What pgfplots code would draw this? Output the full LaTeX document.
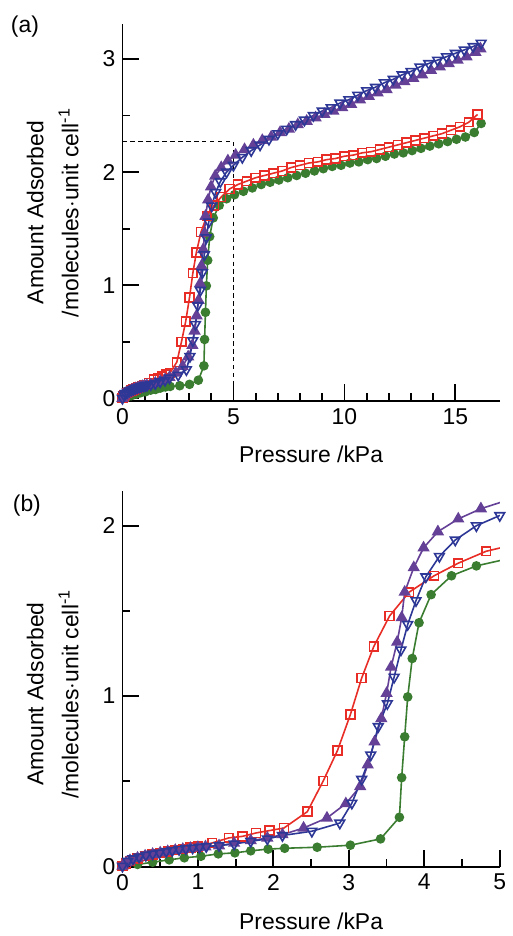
\documentclass[border=0pt]{standalone}
\usepackage{fontspec}
\setmainfont{Liberation Sans}
\usepackage{pgfplots}
\pgfplotsset{compat=1.18}
\usepackage{pgfplotstable}
\definecolor{cred}{RGB}{232,45,38}
\definecolor{cgreen}{RGB}{58,125,48}
\definecolor{cpurple}{RGB}{100,65,150}
\definecolor{cblue}{RGB}{45,55,150}

% open squares
\pgfplotstableread{
x y
0 0
0.05 0.015
0.1 0.03
0.2 0.045
0.3 0.058
0.4 0.068
0.5 0.078
0.6 0.087
0.7 0.095
0.8 0.102
0.9 0.109
1.0 0.116
1.19 0.136
1.41 0.166
1.59 0.175
1.77 0.195
1.95 0.209
2.14 0.224
2.45 0.32
2.66 0.50
2.85 0.68
3.02 0.89
3.17 1.105
3.33 1.29
3.54 1.47
3.80 1.61
4.13 1.706
4.45 1.78
4.82 1.85
5.2 1.89
5.6 1.92
6.0 1.95
6.4 1.97
6.8 1.99
7.2 2.01
7.6 2.04
8.0 2.06
8.4 2.08
8.8 2.09
9.2 2.11
9.6 2.12
10.0 2.14
10.4 2.15
10.8 2.17
11.2 2.18
11.6 2.20
12.0 2.22
12.4 2.24
12.8 2.26
13.2 2.28
13.6 2.30
14.0 2.32
14.4 2.34
14.8 2.37
15.2 2.40
15.6 2.44
16.0 2.51
}\sqdata

% filled circles
\pgfplotstableread{
x y
0 0
0.2 0.01
0.4 0.023
0.62 0.037
0.82 0.049
1.04 0.058
1.27 0.072
1.49 0.078
1.70 0.09
1.93 0.10
2.15 0.105
2.58 0.111
3.02 0.123
3.42 0.16
3.67 0.287
3.70 0.52
3.74 0.76
3.78 0.994
3.84 1.22
3.93 1.43
4.09 1.595
4.36 1.706
4.69 1.764
5.05 1.80
5.45 1.83
5.85 1.86
6.25 1.89
6.65 1.91
7.05 1.93
7.45 1.95
7.85 1.97
8.25 1.99
8.65 2.01
9.05 2.03
9.45 2.05
9.85 2.06
10.25 2.08
10.65 2.09
11.05 2.11
11.45 2.12
11.85 2.14
12.25 2.16
12.65 2.17
13.05 2.19
13.45 2.21
13.85 2.23
14.25 2.25
14.65 2.27
15.05 2.29
15.45 2.31
15.85 2.35
16.16 2.43
}\circdata

% filled up-triangles
\pgfplotstableread{
x y
0 0
0.05 0.02
0.1 0.033
0.2 0.048
0.3 0.06
0.4 0.07
0.5 0.078
0.6 0.086
0.7 0.093
0.8 0.099
0.9 0.105
1.0 0.11
1.1 0.114
1.28 0.12
1.48 0.135
1.70 0.15
1.92 0.165
2.12 0.185
2.40 0.224
2.71 0.283
2.96 0.367
3.15 0.468
3.25 0.595
3.34 0.73
3.43 0.867
3.50 1.015
3.56 1.17
3.64 1.316
3.70 1.46
3.74 1.61
3.86 1.754
3.99 1.87
4.18 1.965
4.45 2.04
4.75 2.10
5.1 2.15
5.5 2.20
5.9 2.24
6.3 2.28
6.7 2.31
7.1 2.35
7.5 2.38
7.9 2.42
8.3 2.45
8.7 2.48
9.1 2.51
9.5 2.54
9.9 2.57
10.3 2.60
10.7 2.64
11.1 2.67
11.5 2.70
11.9 2.73
12.3 2.77
12.7 2.80
13.1 2.83
13.5 2.86
13.9 2.90
14.3 2.93
14.7 2.96
15.1 2.99
15.5 3.02
15.9 3.06
16.13 3.09
}\tridata

% open down-triangles
\pgfplotstableread{
x y
0 0
0.07 0.029
0.14 0.043
0.22 0.054
0.31 0.064
0.40 0.072
0.49 0.078
0.58 0.086
0.66 0.092
0.75 0.098
0.84 0.103
0.93 0.107
1.02 0.111
1.11 0.115
1.28 0.121
1.48 0.130
1.70 0.146
1.92 0.160
2.12 0.18
2.51 0.205
2.88 0.253
3.04 0.37
3.17 0.51
3.29 0.653
3.39 0.82
3.51 0.955
3.60 1.11
3.69 1.27
3.78 1.42
3.89 1.56
4.02 1.70
4.20 1.82
4.41 1.916
4.69 2.00
5.0 2.06
5.4 2.13
5.8 2.19
6.2 2.24
6.6 2.29
7.0 2.34
7.4 2.38
7.8 2.42
8.2 2.46
8.6 2.50
9.0 2.54
9.4 2.57
9.8 2.61
10.2 2.64
10.6 2.68
11.0 2.72
11.4 2.75
11.8 2.79
12.2 2.82
12.6 2.86
13.0 2.89
13.4 2.93
13.8 2.96
14.2 2.99
14.6 3.02
15.0 3.05
15.4 3.08
15.8 3.11
16.16 3.14
}\itridata

\pgfplotsset{
  panel/.style={
    scale only axis, width=189.5pt,
    axis lines=left, axis line style={-, line width=0.9pt},
    tick align=inside, tick style={line width=0.9pt, black},
    major tick length=8.5pt, minor tick length=4pt,
    font=\fontsize{11.5}{13}\selectfont,
    /pgf/number format/assume math mode=true,
    xlabel={Pressure /kPa},
    ylabel={Amount Adsorbed\\/molecules$\cdot$unit cell\textsuperscript{-1}},
  },
  sq/.style={cred, line width=0.8pt, mark=square, mark size=2.2pt, mark options={fill=white, solid}},
  circ/.style={cgreen, line width=0.8pt, mark=*, mark size=2pt},
  tri/.style={cpurple, line width=0.8pt, mark=triangle*, mark size=2.8pt},
  itri/.style={cblue, line width=0.8pt, mark=triangle, mark size=2.8pt, mark options={rotate=180, fill=white}},
}

\begin{document}
\begin{tikzpicture}
\path (0,0) rectangle (251pt,-468pt);

% panel (a): full pressure range
\begin{axis}[panel,
  at={(61.5pt,-201.5pt)}, anchor=south west, height=189.5pt,
  xmin=0, xmax=17, ymin=-0.026, ymax=3.31,
  xtick={0,5,10,15}, minor x tick num=4,
  ytick={0,1,2,3}, minor y tick num=1,
  clip=false,
  every axis x label/.style={at={(axis description cs:0.5,-0.14)}, anchor=center},
  every axis y label/.style={at={(axis description cs:-0.185,0.5)}, anchor=center, rotate=90,
    align=center, font=\fontsize{11.5}{17.5}\selectfont},
]
\draw[line width=0.8pt, dash pattern=on 2.2pt off 1.8pt] (axis cs:0,2.27) -- (axis cs:5,2.27) -- (axis cs:5,0);
\addplot[circ] table {\circdata};
\addplot[sq] table {\sqdata};
\addplot[tri] table {\tridata};
\addplot[itri] table {\itridata};
\end{axis}
\node[font=\fontsize{11.5}{13}\selectfont] at (12.5pt,-13.5pt) {(a)};

% panel (b): 0-5 kPa
\begin{axis}[panel,
  at={(61.5pt,-435.5pt)}, anchor=south west, height=189pt,
  xmin=0, xmax=5, ymin=-0.006, ymax=2.205,
  xtick={0,1,2,3,4,5}, minor x tick num=1,
  ytick={0,1,2}, minor y tick num=1,
  restrict x to domain=0:5.6,
  every axis x label/.style={at={(axis description cs:0.5,-0.143)}, anchor=center},
  every axis y label/.style={at={(axis description cs:-0.185,0.46)}, anchor=center, rotate=90,
    align=center, font=\fontsize{11.5}{17.5}\selectfont},
]
\addplot[circ] table {\circdata};
\addplot[sq] table {\sqdata};
\addplot[tri] table {\tridata};
\addplot[itri] table {\itridata};
\end{axis}
\node[font=\fontsize{11.5}{13}\selectfont] at (13.5pt,-254pt) {(b)};
\end{tikzpicture}
\end{document}
